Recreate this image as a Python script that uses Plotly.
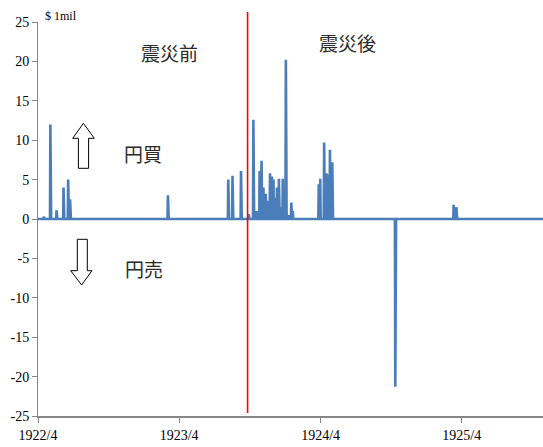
import pandas as pd
import plotly.graph_objects as go

# ---- data ----
event_dates = ["1922-04-16", "1922-05-03", "1922-05-19", "1922-06-06", "1922-06-18", "1922-06-23",
               "1923-03-03", "1923-08-06", "1923-08-17", "1923-09-08", "1923-09-28", "1923-10-10",
               "1923-10-18", "1923-10-26", "1923-10-31", "1923-11-05", "1923-11-11", "1923-11-15",
               "1923-11-22", "1923-11-27", "1923-12-01", "1923-12-05", "1923-12-10", "1923-12-15",
               "1923-12-20", "1923-12-25", "1924-01-02", "1924-01-09", "1924-01-16", "1924-01-20",
               "1924-03-27", "1924-03-31", "1924-04-10", "1924-04-16", "1924-04-19", "1924-04-25",
               "1924-05-01", "1924-10-11", "1925-03-11", "1925-03-18"]
event_values = [0.3, 12.0, 1.1, 4.0, 5.0, 2.5,
                3.0, 5.0, 5.5, 6.1, 0.6, 12.6,
                1.0, 6.1, 7.4, 4.0, 3.2, 2.3,
                5.8, 5.4, 5.0, 2.7, 4.0, 5.1,
                1.5, 5.1, 20.2, 0.5, 2.1, 1.0,
                4.4, 5.1, 9.7, 5.8, 5.6, 8.8,
                7.2, -21.3, 1.8, 1.5]
series_start = "1922-04-01"
series_end = "1925-10-31"
earthquake_marker = "1923-09-25"

x_tick_dates = ["1922-04-01", "1923-04-01", "1924-04-01", "1925-04-01"]
x_tick_labels = ["1922/4", "1923/4", "1924/4", "1925/4"]
y_tick_vals = [25, 20, 15, 10, 5, 0, -5, -10, -15, -20, -25]
y_tick_labels = ["25", "20", "15", "10", "5", "0", "-5", "-10", "-15", "-20", "-25"]

# daily series: zero baseline with interventions on event days
days = pd.date_range(series_start, series_end, freq="D")
vals = pd.Series(0.0, index=days)
for d, v in zip(event_dates, event_values):
    vals[pd.Timestamp(d)] = v

W, H = 543, 447
L, R, T, B = 38, 0, 22, 31
PW, PH = W - L - R, H - T - B

def px(x):
    return (x - L) / PW

def py(y):
    return (H - B - y) / PH

fig = go.Figure()
fig.add_trace(go.Scatter(x=vals.index, y=vals.values, mode="lines",
                         line=dict(color="#4A7EBB", width=2.6), hoverinfo="skip"))

serif = "Liberation Serif, Times New Roman, serif"
cjk = "Noto Sans CJK JP, sans-serif"

shapes = [
    dict(type="line", xref="x", yref="paper", x0=earthquake_marker, x1=earthquake_marker,
         y0=py(413), y1=py(12), line=dict(color="#FF0000", width=1.6)),
]

def path(points):
    s = "M " + " L ".join(f"{px(a):.5f},{py(b):.5f}" for a, b in points) + " Z"
    return s

up = [(83.4, 123.3), (94.3, 138.3), (88.6, 138.3), (88.6, 168.3), (78.4, 168.3), (78.4, 138.3), (72.7, 138.3)]
down = [(77.3, 239.3), (87.3, 239.3), (87.3, 270.7), (92.0, 270.7), (81.6, 285.0), (70.7, 270.7), (77.3, 270.7)]
for pts in (up, down):
    shapes.append(dict(type="path", xref="paper", yref="paper", path=path(pts),
                       line=dict(color="#000000", width=1), fillcolor="rgba(0,0,0,0)"))

def label(text, x, y):
    return dict(text=text, x=px(x), y=py(y), xref="paper", yref="paper",
                xanchor="center", yanchor="middle", showarrow=False,
                font=dict(family=cjk, size=19, color="#2a2a2a"))

annotations = [
    dict(text="$ 1mil", x=px(43), y=py(16), xref="paper", yref="paper", xanchor="left", yanchor="middle",
         showarrow=False, font=dict(family=serif, size=12, color="#000000")),
    label("震災前", 169.5, 53),
    label("震災後", 347, 42.5),
    label("円買", 142.5, 153),
    label("円売", 143.5, 268.7),
]

fig.update_layout(
    width=W, height=H, margin=dict(l=L, r=R, t=T, b=B, autoexpand=False),
    paper_bgcolor="white", plot_bgcolor="white", showlegend=False,
    shapes=shapes, annotations=annotations,
    xaxis=dict(type="date", range=["1922-04-01", "1925-10-28"], tickvals=x_tick_dates, ticktext=x_tick_labels,
               showgrid=False, zeroline=False, showline=True, linecolor="#868686", linewidth=2,
               ticks="outside", ticklen=5, tickcolor="#868686", tickwidth=1, automargin=False,
               tickfont=dict(family=serif, size=14, color="#000000")),
    yaxis=dict(range=[-25, 25], tickvals=y_tick_vals, ticktext=y_tick_labels,
               showgrid=False, zeroline=False, showline=True, linecolor="#868686", linewidth=1,
               ticks="outside", ticklen=5, tickcolor="#868686", tickwidth=1, automargin=False,
               tickfont=dict(family=serif, size=14, color="#000000")),
)

fig.write_html("out.html", config={"displayModeBar": False},
               post_script="document.body.style.margin='0px';document.body.style.padding='0px';")
